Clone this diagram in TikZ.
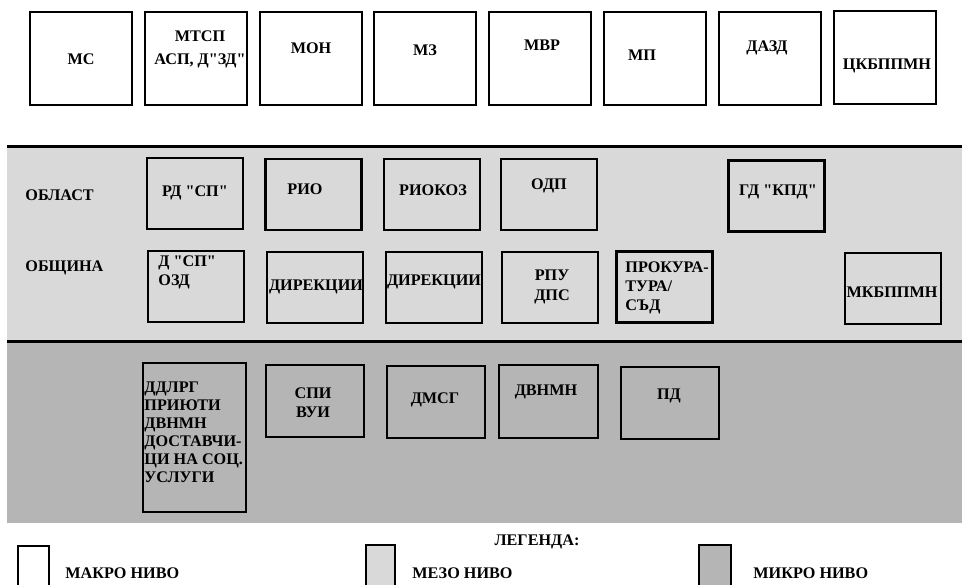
\documentclass[tikz,border=0pt]{standalone}
\usepackage{fontspec}
\setmainfont{Liberation Serif}[Ligatures=TeXOff]
\usetikzlibrary{positioning}

\definecolor{mezo}{gray}{0.85}
\definecolor{mikro}{gray}{0.71}

\begin{document}
\begin{tikzpicture}[x=0.5pt, y=-0.5pt,
		box/.style={draw, line width=1.3pt, inner sep=0pt},
		topbox/.style={box, minimum width=51pt, minimum height=46.5pt},
		midbox/.style={box, minimum width=48pt, minimum height=35.5pt},
		txt/.style={font=\bfseries\fontsize{8.1}{9.5}\selectfont, inner sep=0pt, align=center},
		ltxt/.style={txt, align=left, anchor=west}]
				\clip (0, 0) rectangle (962, 584);

				% bands
				\fill [mezo] (7, 146) rectangle (962, 341);
				\fill [mikro] (7, 342) rectangle (962, 523);
				\draw [line width=1.5pt] (7, 146) -- (962, 146);
				\draw [line width=1.5pt] (7, 341) -- (962, 341);

				% macro level
				\node [topbox] (ms) at (81, 58.5) {};
				\node [topbox] (mtsp) at (196, 58.5) {};
				\node [topbox] (mon) at (311, 58.5) {};
				\node [topbox] (mz) at (425, 58.5) {};
				\node [topbox] (mvr) at (540, 58.5) {};
				\node [topbox] (mp) at (655, 58.5) {};
				\node [topbox] (dazd) at (770, 58.5) {};
				\node [topbox] (tskb) at (885, 57.5) {};
				\node [txt] (tms) at (81, 59) {МС};
				\node [txt, font=\bfseries\fontsize{8.1}{11.5}\selectfont] (tmtsp) at (200, 49) {МТСП\\АСП, Д"ЗД"};
				\node [txt] (tmon) at (311, 48) {МОН};
				\node [txt] (tmz) at (425, 50) {МЗ};
				\node [txt] (tmvr) at (542, 45) {МВР};
				\node [txt] (tmp) at (642, 55) {МП};
				\node [txt] (tdazd) at (767, 48) {ДАЗД};
				\node [txt] (ttskb) at (887, 66) {ЦКБППМН};

				% meso level
				\node [ltxt] (oblast) at (25, 195) {ОБЛАСТ};
				\node [ltxt] (obshtina) at (25, 268) {ОБЩИНА};

				\node [midbox] (rdsp) at (195, 193.5) {};
				\node [midbox] (rio) at (313.5, 194.5) {};
				\node [midbox] (riokoz) at (432, 194.5) {};
				\node [midbox] (odp) at (549, 194.5) {};
				\node [midbox] (gdkpd) at (776.5, 196) {};
				\node [txt] (trdsp) at (195, 193) {РД "СП"};
				\node [txt] (trio) at (305, 189) {РИО};
				\node [txt] (triokoz) at (433, 190) {РИОКОЗ};
				\node [txt] (todp) at (549, 186) {ОДП};
				\node [txt] (tgdkpd) at (778, 192) {ГД "КПД"};

				\node [midbox] (dsp) at (196, 286.5) {};
				\node [midbox] (dir1) at (315, 287.5) {};
				\node [midbox] (dir2) at (434, 287.5) {};
				\node [midbox] (rpu) at (550, 287.5) {};
				\node [midbox] (prok) at (664.5, 287) {};
				\node [midbox] (mkb) at (893, 288.5) {};
				\node [ltxt] (tdsp) at (158, 272.5) {Д "СП"\\ОЗД};
				\node [txt] (tdir1) at (316, 287) {ДИРЕКЦИИ};
				\node [txt] (tdir2) at (434, 282) {ДИРЕКЦИИ};
				\node [txt, font=\bfseries\fontsize{8.1}{10}\selectfont] (trpu) at (552, 287) {РПУ\\ДПС};
				\node [ltxt] (tprok) at (625, 287.5) {ПРОКУРА-\\ТУРА/\\СЪД};
				\node [txt] (tmkb) at (892, 292) {МКБППМН};

				% micro level
				\node [box, minimum width=51.5pt, minimum height=74.5pt] (ddlrg) at (194.5, 437.5) {};
				\node [box, minimum width=49pt, minimum height=36pt] (spi) at (315, 401) {};
				\node [box, minimum width=49pt, minimum height=36pt] (dmsg) at (436, 402) {};
				\node [box, minimum width=49.5pt, minimum height=36.5pt] (dvnmn) at (548.5, 401.5) {};
				\node [box, minimum width=49pt, minimum height=36pt] (pd) at (670, 403) {};
				\node [ltxt, font=\bfseries\fontsize{8.1}{9}\selectfont] (tddlrg) at (144, 432) {ДДЛРГ\\ПРИЮТИ\\ДВНМН\\ДОСТАВЧИ-\\ЦИ НА СОЦ.\\УСЛУГИ};
				\node [txt] (tspi) at (313, 402.5) {СПИ\\ВУИ};
				\node [txt] (tdmsg) at (435, 400) {ДМСГ};
				\node [txt] (tdvnmn) at (546, 392) {ДВНМН};
				\node [txt] (tpd) at (669, 396) {ПД};

				% legend
				\node [txt] (legenda) at (537, 542) {ЛЕГЕНДА:};
				\node [box, minimum width=15.5pt, minimum height=22pt] (lmakro) at (33.5, 568) {};
				\node [box, fill=mezo, minimum width=14.5pt, minimum height=22pt] (lmezo) at (380.5, 567) {};
				\node [box, fill=mikro, minimum width=16pt, minimum height=22pt] (lmikro) at (715, 567) {};
				\node [ltxt] (tmakro) at (65, 573) {МАКРО НИВО};
				\node [ltxt] (tmezo) at (412, 573) {МЕЗО НИВО};
				\node [ltxt] (tmikro) at (753, 573) {МИКРО НИВО};
		\end{tikzpicture}
\end{document}
